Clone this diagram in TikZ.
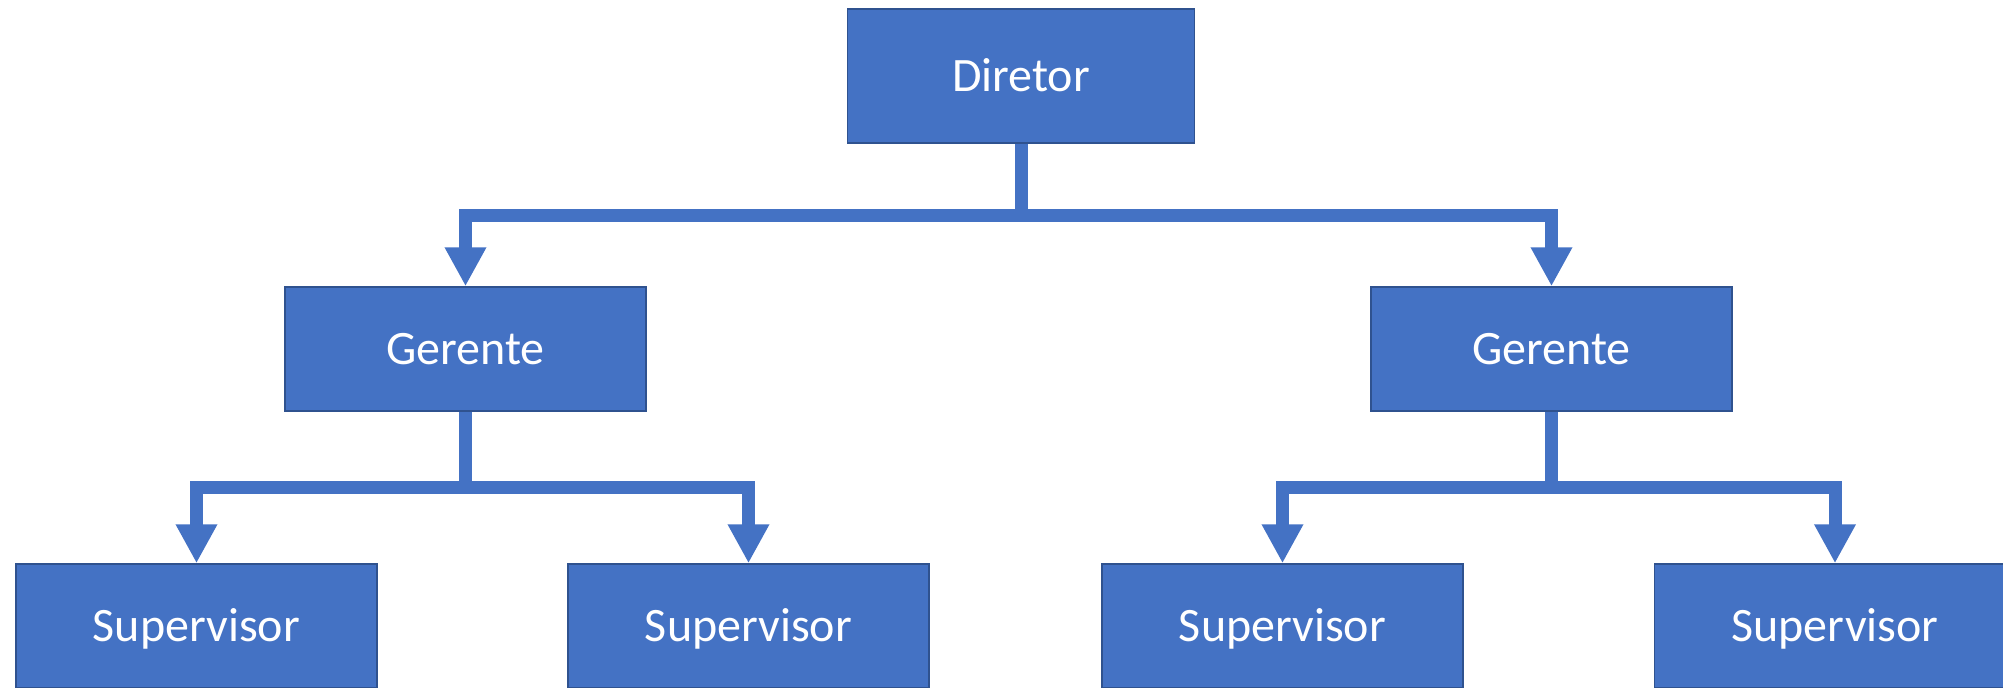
\documentclass[tikz,border=0pt]{standalone}
\usepackage{fontspec}
\setmainfont{Carlito}
\usetikzlibrary{arrows.meta,calc}
\definecolor{boxfill}{HTML}{4472C4}
\definecolor{boxline}{HTML}{2F528F}
\tikzset{
  orgbox/.style={draw=boxline, fill=boxfill, line width=0.75pt, text=white,
    font=\fontsize{24pt}{28pt}\selectfont, minimum width=180.5pt, minimum height=62pt,
    inner sep=0pt, text height=15.5pt, text depth=0pt},
  topbox/.style={orgbox, minimum width=173.5pt, minimum height=67pt},
  conn/.style={draw=boxfill, line width=6.5pt, line join=miter,
    -{Triangle[width=19.5pt,length=19.5pt]}}
}
\begin{document}
\begin{tikzpicture}[x=0.5pt,y=-0.5pt]
\useasboundingbox (0,0) rectangle (2003,687);
\clip (0,0) rectangle (2003,687);
\node[topbox] (dir) at (1021,76) {Diretor};
\node[orgbox] (g1) at (465.5,349) {Gerente};
\node[orgbox] (g2) at (1551.5,349) {Gerente};
\node[orgbox] (s1) at (196.5,626) {Supervisor};
\node[orgbox] (s2) at (748.5,626) {Supervisor};
\node[orgbox] (s3) at (1282.5,626) {Supervisor};
\node[orgbox] (s4) at (1835,626) {Supervisor};
\draw[conn] (dir.south) |- ($(dir.south)!.5!(g1.north)$) -| (g1.north);
\draw[conn] (dir.south) |- ($(dir.south)!.5!(g2.north)$) -| (g2.north);
\draw[conn] (g1.south) |- ($(g1.south)!.5!(s1.north)$) -| (s1.north);
\draw[conn] (g1.south) |- ($(g1.south)!.5!(s2.north)$) -| (s2.north);
\draw[conn] (g2.south) |- ($(g2.south)!.5!(s3.north)$) -| (s3.north);
\draw[conn] (g2.south) |- ($(g2.south)!.5!(s4.north)$) -| (s4.north);
\end{tikzpicture}
\end{document}
